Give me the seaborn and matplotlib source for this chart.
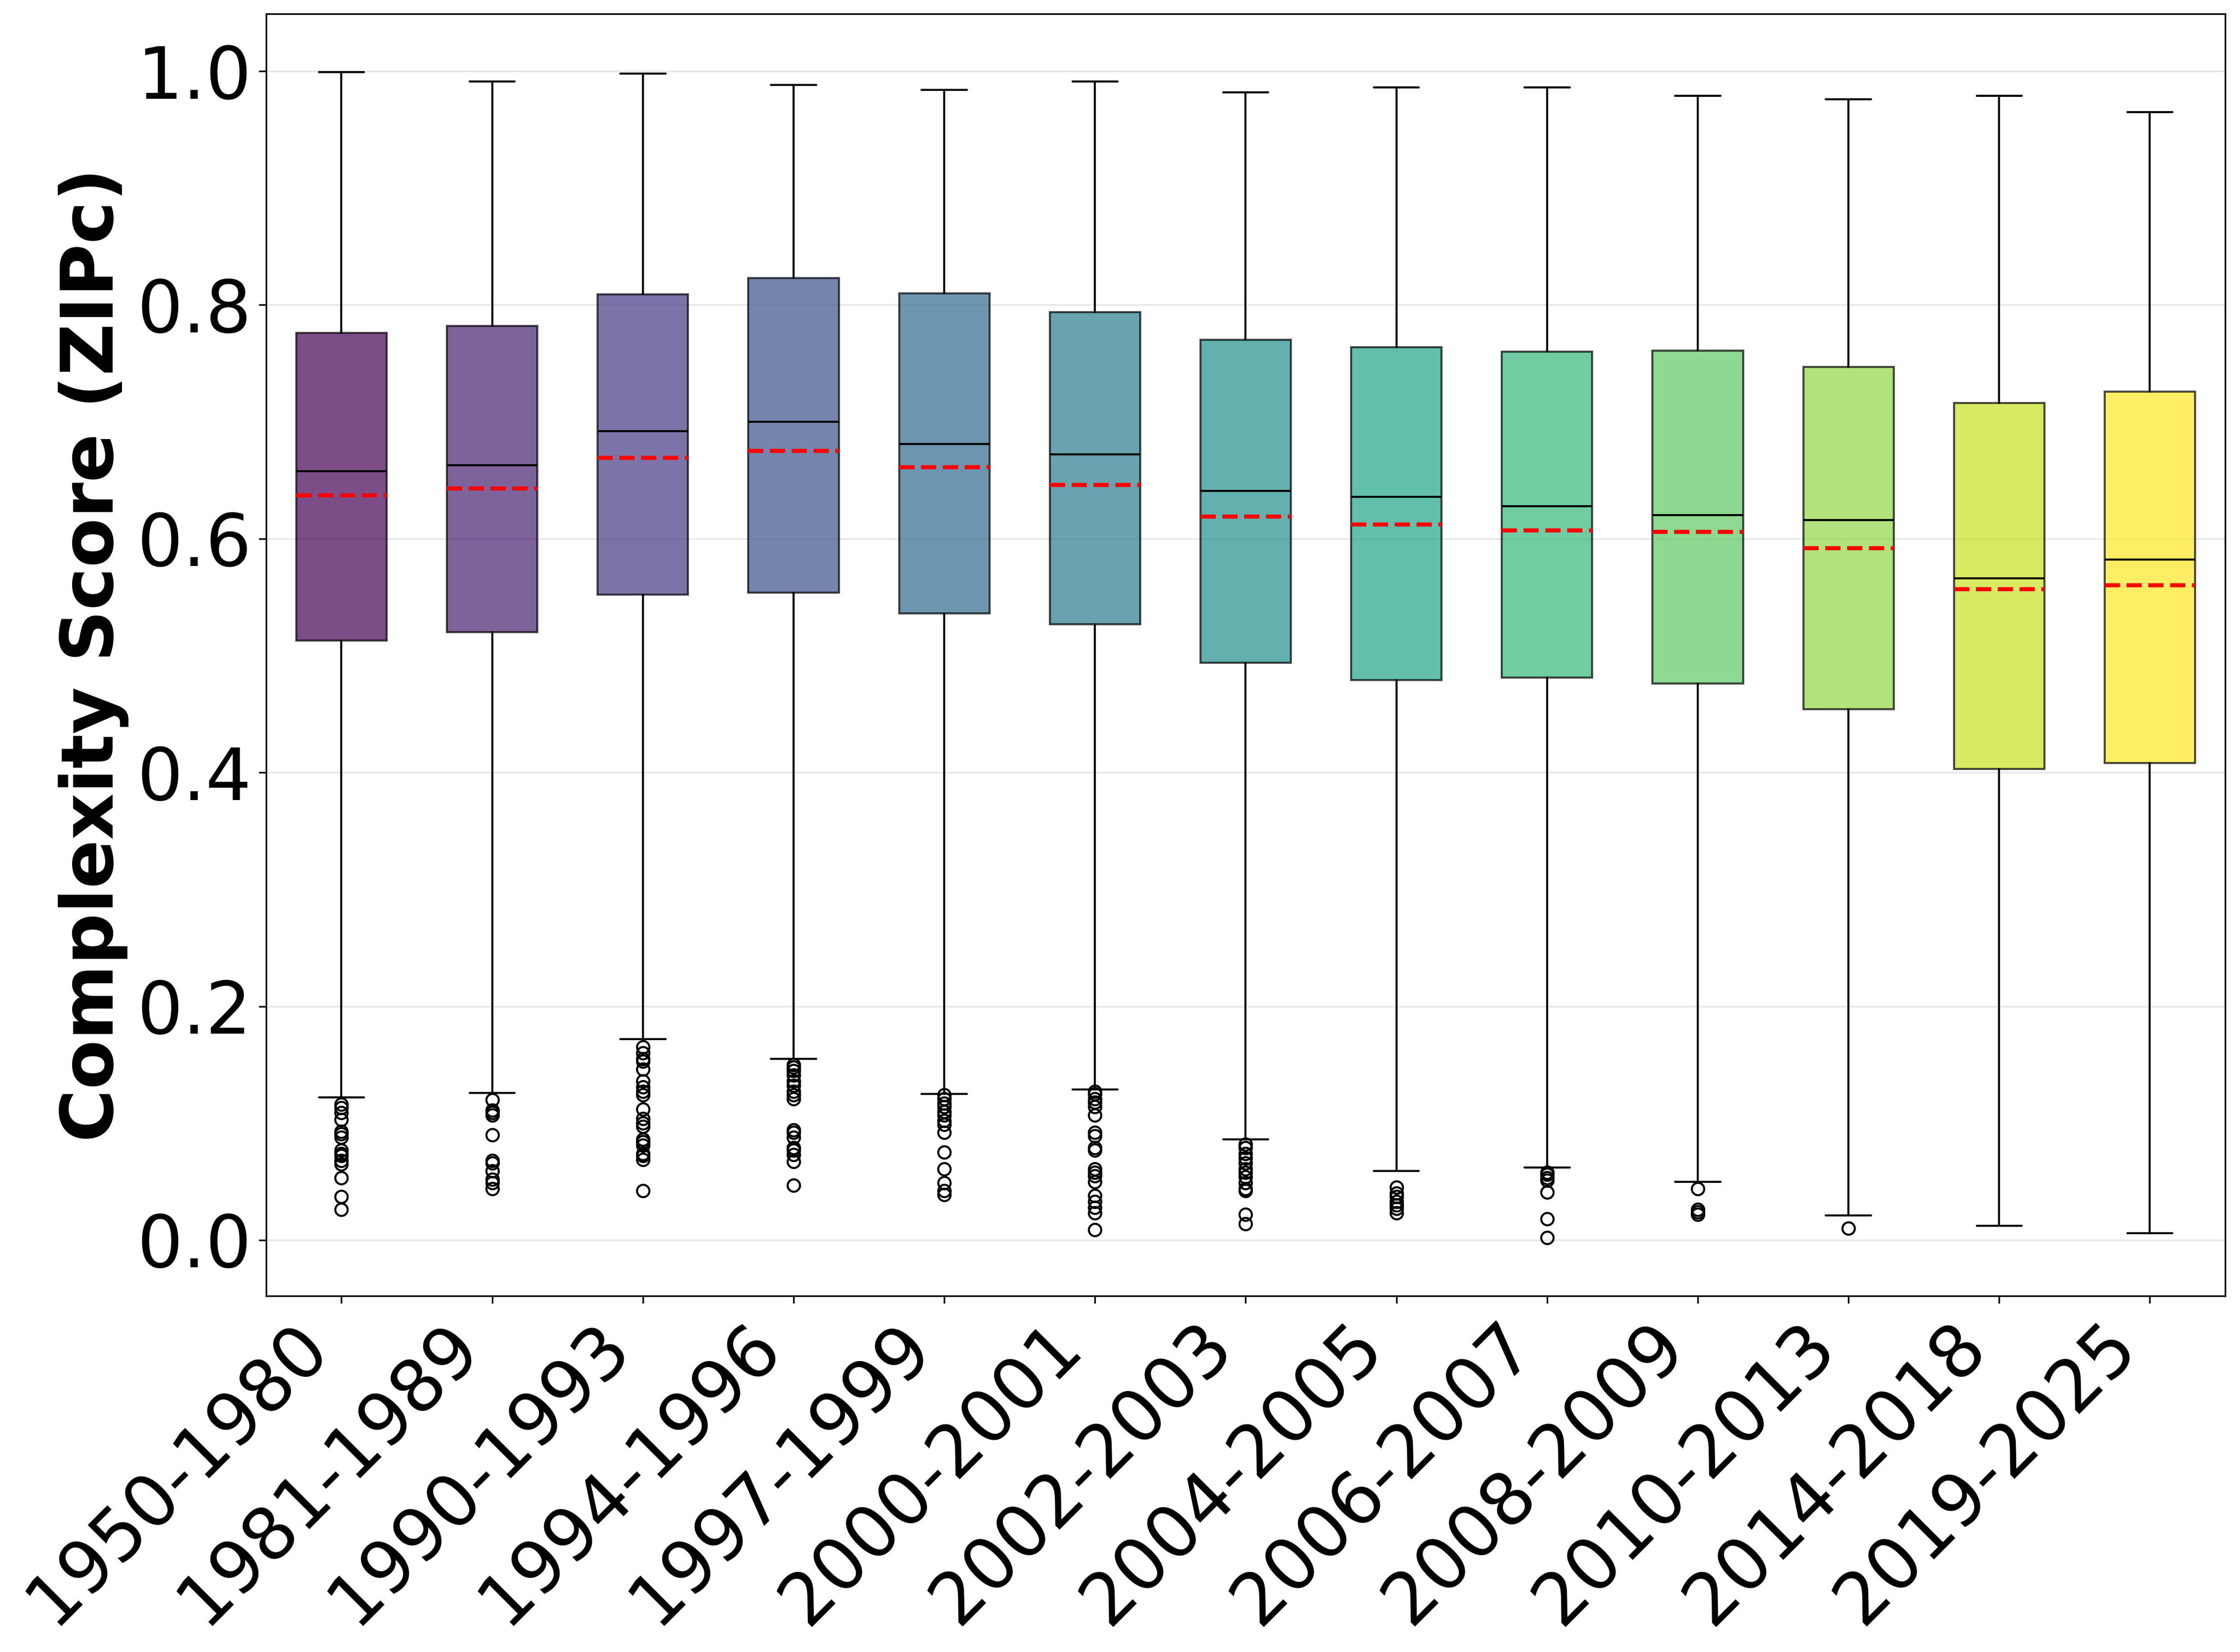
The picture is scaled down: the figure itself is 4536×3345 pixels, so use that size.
import numpy as np
import matplotlib
matplotlib.use("Agg")
import matplotlib.pyplot as plt
import seaborn as sns

# 各时期的箱线图统计量
periods = ['1950-1980', '1981-1989', '1990-1993', '1994-1996', '1997-1999',
           '2000-2001', '2002-2003', '2004-2005', '2006-2007', '2008-2009',
           '2010-2013', '2014-2018', '2019-2025']
whislo = [0.122, 0.126, 0.172, 0.155, 0.125, 0.129, 0.086, 0.059, 0.062, 0.050, 0.021, 0.012, 0.006]
q1 = [0.513, 0.520, 0.552, 0.554, 0.536, 0.527, 0.494, 0.479, 0.481, 0.476, 0.454, 0.403, 0.408]
median = [0.658, 0.663, 0.692, 0.700, 0.681, 0.672, 0.641, 0.636, 0.628, 0.620, 0.616, 0.566, 0.582]
mean = [0.637, 0.643, 0.669, 0.675, 0.661, 0.646, 0.619, 0.612, 0.607, 0.606, 0.592, 0.557, 0.560]
q3 = [0.776, 0.782, 0.809, 0.823, 0.810, 0.794, 0.770, 0.764, 0.760, 0.761, 0.747, 0.716, 0.726]
whishi = [0.999, 0.991, 0.998, 0.988, 0.984, 0.991, 0.982, 0.986, 0.986, 0.979, 0.976, 0.979, 0.965]
fliers = [
    [0.116, 0.113, 0.109, 0.103, 0.093, 0.091, 0.088, 0.077, 0.074, 0.072, 0.068, 0.065, 0.053, 0.037, 0.026],
    [0.120, 0.111, 0.109, 0.107, 0.090, 0.068, 0.066, 0.059, 0.052, 0.049, 0.044],
    [0.165, 0.160, 0.155, 0.153, 0.146, 0.136, 0.131, 0.127, 0.124, 0.112, 0.104, 0.100,
     0.097, 0.086, 0.084, 0.081, 0.074, 0.072, 0.069, 0.042],
    [0.150, 0.148, 0.145, 0.141, 0.136, 0.132, 0.127, 0.124, 0.121, 0.094, 0.092, 0.088,
     0.079, 0.077, 0.073, 0.067, 0.047],
    [0.124, 0.121, 0.117, 0.114, 0.110, 0.107, 0.102, 0.099, 0.092, 0.075, 0.061, 0.049, 0.042, 0.039],
    [0.127, 0.125, 0.121, 0.118, 0.114, 0.107, 0.092, 0.089, 0.079, 0.077, 0.061, 0.058,
     0.055, 0.050, 0.038, 0.033, 0.028, 0.023, 0.009],
    [0.082, 0.079, 0.074, 0.070, 0.066, 0.061, 0.058, 0.054, 0.049, 0.044, 0.042, 0.022, 0.014],
    [0.045, 0.040, 0.037, 0.033, 0.030, 0.027, 0.023],
    [0.058, 0.056, 0.053, 0.051, 0.041, 0.018, 0.002],
    [0.044, 0.026, 0.024, 0.022],
    [0.010],
    [],
    [],
]

sns.set_style("ticks", {"axes.edgecolor": "black", "xtick.color": "black",
                        "ytick.color": "black", "axes.labelcolor": "black",
                        "text.color": "black"})
plt.rcParams['font.family'] = ['DejaVu Sans']

cmap = sns.color_palette("viridis", as_cmap=True)
colors = cmap(np.linspace(0, 1, len(periods)))

stats = []
for i, p in enumerate(periods):
    stats.append(dict(label=p, whislo=whislo[i], q1=q1[i], med=median[i], mean=mean[i],
                      q3=q3[i], whishi=whishi[i], fliers=fliers[i]))

fig, ax = plt.subplots(figsize=(15.12, 11.15), dpi=300)
fig.subplots_adjust(left=0.1188, right=0.9934, top=0.9915, bottom=0.2155)

bp = ax.bxp(stats, widths=0.6, patch_artist=True, showmeans=True, meanline=True,
            medianprops=dict(color='black', linewidth=1.0),
            meanprops=dict(color='red', linestyle='--', linewidth=2.0),
            flierprops=dict(marker='o', markerfacecolor='none', markeredgecolor='black', markersize=6))
for patch, c in zip(bp['boxes'], colors):
    patch.set_facecolor(c)
    patch.set_alpha(0.7)

ax.set_xticklabels(periods, rotation=45, ha='right', fontsize=35)
ax.tick_params(axis='y', labelsize=35)
ax.set_ylabel('Complexity Score (ZIPc)', fontsize=35, fontweight='bold')
ax.grid(axis='y', color='#b0b0b0', alpha=0.3, linewidth=0.8)
ax.set_axisbelow(True)

fig.savefig('out.png', dpi=300)
